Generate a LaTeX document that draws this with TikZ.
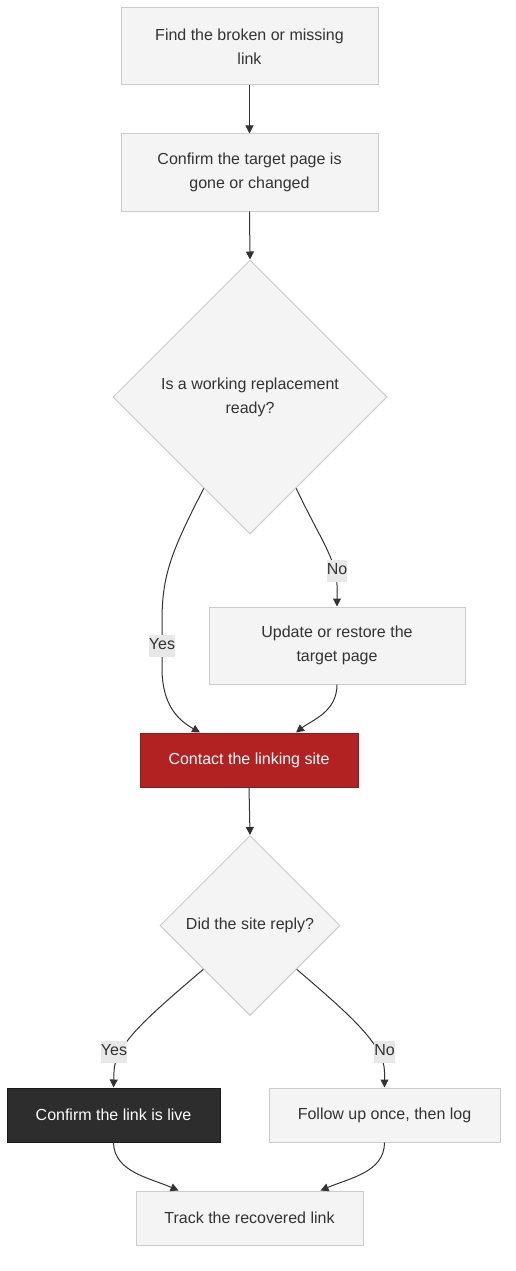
\documentclass[tikz,border=0pt]{standalone}
\usepackage{fontspec}
\setmainfont{Liberation Sans}
\usetikzlibrary{shapes.geometric,arrows.meta,calc}
\definecolor{boxfill}{HTML}{F4F4F4}
\definecolor{boxline}{HTML}{CCCCCC}
\definecolor{txt}{HTML}{333333}
\definecolor{edge}{HTML}{333333}
\definecolor{lblbg}{HTML}{E8E8E8}
\definecolor{redfill}{HTML}{B22222}
\definecolor{redline}{HTML}{8E1B1B}
\definecolor{darkfill}{HTML}{2D2D2D}
\definecolor{darkline}{HTML}{1A1A1A}
\tikzset{
  base/.style={font=\fontsize{16}{24}\selectfont, text=txt, align=center, inner sep=0pt},
  lightbox/.style={base, rectangle, fill=boxfill, draw=boxline, line width=1pt},
  redbox/.style={base, rectangle, fill=redfill, draw=redline, line width=1pt, text=white},
  darkbox/.style={base, rectangle, fill=darkfill, draw=darkline, line width=1pt, text=white},
  decision/.style={base, diamond, aspect=1, fill=boxfill, draw=boxline, line width=1pt},
  conn/.style={draw=edge, line width=1pt, -{Triangle[length=8pt,width=8pt]}},
  lbl/.style={font=\fontsize{16}{24}\selectfont, text=txt, fill=lblbg, inner xsep=0pt, inner ysep=3pt, text height=12pt, text depth=4pt},
}
\begin{document}
\begin{tikzpicture}[x=1pt,y=-1pt]
\useasboundingbox (0,0) rectangle (516,1271);
\node[lightbox, minimum width=257pt, minimum height=77pt] (find) at (249.5,46.5) {Find the broken or missing\\link};
\node[lightbox, minimum width=257pt, minimum height=77pt] (confirmtarget) at (249.5,172.5) {Confirm the target page is\\gone or changed};
\node[decision, minimum width=274pt, minimum height=274pt] (ready) at (250,397) {Is a working replacement\\ready?};
\node[lightbox, minimum width=256pt, minimum height=77pt] (update) at (337,645.5) {Update or restore the\\target page};
\node[redbox, minimum width=218pt, minimum height=54pt] (contact) at (249,760) {Contact the linking site};
\node[decision, minimum width=180pt, minimum height=180pt] (reply) at (250,925.5) {Did the site reply?};
\node[darkbox, minimum width=213pt, minimum height=54pt] (live) at (113.5,1115) {Confirm the link is live};
\node[lightbox, minimum width=231pt, minimum height=54pt] (follow) at (384.5,1115) {Follow up once, then log};
\node[lightbox, minimum width=227pt, minimum height=54pt] (track) at (249.5,1218) {Track the recovered link};

\draw[conn] (find.south) -- (confirmtarget.north);
\draw[conn] (confirmtarget.south) -- (ready.north);
\draw[conn] ($(ready.west)!0.664!(ready.south)$) .. controls (172,550) and (162,575) .. (162,620) -- (162,668) .. controls (162,705) and (178,720) .. ([xshift=-49pt]contact.north);
\draw[conn] ($(ready.east)!0.664!(ready.south)$) .. controls (318,535) and (337,560) .. (337,585) -- (update.north);
\draw[conn] (update.south) .. controls (337,712) and (312,720) .. ([xshift=47pt]contact.north);
\draw[conn] (contact.south) -- (reply.north);
\draw[conn] ($(reply.west)!0.484!(reply.south)$) .. controls (150,1015) and (114,1045) .. (114,1072) -- (live.north);
\draw[conn] ($(reply.east)!0.484!(reply.south)$) .. controls (350,1015) and (384.5,1045) .. (384.5,1072) -- (follow.north);
\draw[conn] (live.south) .. controls (114,1172) and (150,1178) .. ([xshift=-71pt]track.north);
\draw[conn] (follow.south) .. controls (384.5,1172) and (350,1178) .. ([xshift=71pt]track.north);

\node[lbl] (yes1) at (162,645.5) {Yes};
\node[lbl] (no1) at (337,570.5) {No};
\node[lbl] (yes2) at (114,1051.5) {Yes};
\node[lbl] (no2) at (384.5,1051.5) {No};
\end{tikzpicture}
\end{document}
